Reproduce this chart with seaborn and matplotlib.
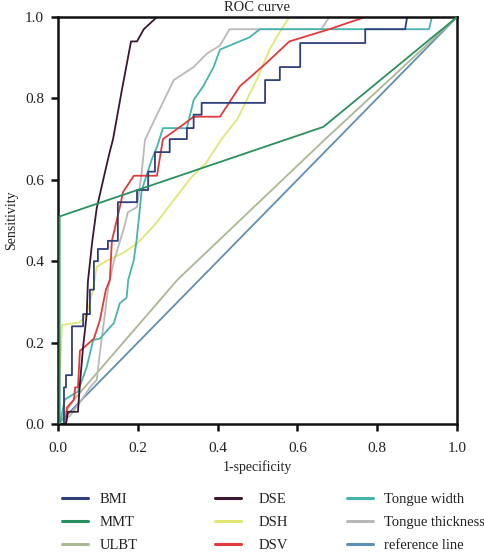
import matplotlib
matplotlib.use("Agg")
import matplotlib.pyplot as plt
import seaborn as sns
import pandas as pd

# ---- data ----
bmi_x = [0, 0.015, 0.015, 0.02, 0.02, 0.035, 0.035, 0.063, 0.063, 0.08, 0.08, 0.09, 0.09, 0.10, 0.10,
         0.125, 0.125, 0.15, 0.15, 0.198, 0.198, 0.226, 0.226, 0.243, 0.243, 0.28, 0.28, 0.323, 0.323,
         0.34, 0.34, 0.36, 0.36, 0.519, 0.519, 0.556, 0.556, 0.607, 0.607, 0.77, 0.77, 0.87, 0.875, 1.0]
bmi_y = [0, 0, 0.09, 0.09, 0.12, 0.12, 0.24, 0.24, 0.27, 0.27, 0.33, 0.33, 0.40, 0.40, 0.43,
         0.43, 0.45, 0.45, 0.545, 0.545, 0.575, 0.575, 0.62, 0.62, 0.668, 0.668, 0.70, 0.70, 0.727,
         0.727, 0.76, 0.76, 0.789, 0.789, 0.845, 0.845, 0.877, 0.877, 0.936, 0.936, 0.97, 0.97, 1.0, 1.0]

mmt_x = [0.004, 0.004, 0.665, 1.0]
mmt_y = [0, 0.51, 0.73, 1.0]

ulbt_x = [0, 0.04, 0.30, 0.67, 1.0]
ulbt_y = [0, 0.06, 0.355, 0.70, 1.0]

dse_x = [0, 0.02, 0.025, 0.05, 0.055, 0.063, 0.072, 0.075, 0.086, 0.097, 0.118, 0.13, 0.138, 0.16,
         0.183, 0.198, 0.215, 0.248, 1.0]
dse_y = [0, 0, 0.03, 0.03, 0.10, 0.19, 0.27, 0.35, 0.45, 0.53, 0.62, 0.67, 0.70, 0.82,
         0.94, 0.94, 0.97, 1.0, 1.0]

dsh_x = [0, 0.003, 0.01, 0.055, 0.072, 0.088, 0.097, 0.12, 0.163, 0.20, 0.243, 0.29, 0.335, 0.37,
         0.41, 0.45, 0.47, 0.50, 0.53, 0.56, 0.58, 1.0]
dsh_y = [0, 0.10, 0.243, 0.25, 0.27, 0.33, 0.386, 0.40, 0.42, 0.445, 0.49, 0.55, 0.607, 0.64,
         0.70, 0.75, 0.79, 0.85, 0.92, 0.97, 1.0, 1.0]

dsv_x = [0, 0.02, 0.022, 0.04, 0.043, 0.05, 0.055, 0.072, 0.09, 0.105, 0.12, 0.13, 0.135, 0.155,
         0.163, 0.19, 0.248, 0.263, 0.313, 0.34, 0.406, 0.456, 0.52, 0.58, 0.68, 0.77, 1.0]
dsv_y = [0, 0, 0.04, 0.06, 0.09, 0.09, 0.18, 0.194, 0.21, 0.255, 0.33, 0.354, 0.45, 0.533,
         0.57, 0.61, 0.61, 0.70, 0.735, 0.755, 0.755, 0.83, 0.885, 0.94, 0.97, 1.0, 1.0]

tw_x = [0, 0.005, 0.017, 0.05, 0.072, 0.088, 0.105, 0.14, 0.155, 0.172, 0.176, 0.19, 0.197, 0.21,
        0.235, 0.248, 0.263, 0.323, 0.34, 0.364, 0.39, 0.406, 0.48, 0.506, 0.93, 0.937, 1.0]
tw_y = [0, 0, 0.06, 0.08, 0.14, 0.206, 0.21, 0.248, 0.297, 0.31, 0.354, 0.403, 0.452, 0.575,
        0.65, 0.68, 0.727, 0.727, 0.796, 0.83, 0.877, 0.92, 0.95, 0.97, 0.97, 1.0, 1.0]

tt_x = [0, 0.03, 0.06, 0.08, 0.097, 0.105, 0.115, 0.125, 0.14, 0.165, 0.175, 0.198, 0.21, 0.218,
        0.248, 0.263, 0.29, 0.34, 0.373, 0.406, 0.43, 0.66, 0.68, 1.0]
tt_y = [0, 0.02, 0.06, 0.09, 0.108, 0.175, 0.25, 0.33, 0.40, 0.48, 0.52, 0.533, 0.62, 0.698,
        0.76, 0.79, 0.845, 0.877, 0.91, 0.93, 0.97, 0.97, 1.0, 1.0]

ref_x = [0, 1.0]
ref_y = [0, 1.0]

labels = ["BMI", "MMT", "ULBT", "DSE", "DSH", "DSV",
          "Tongue width", "Tongue thickness", "reference line"]
series_x = [bmi_x, mmt_x, ulbt_x, dse_x, dsh_x, dsv_x, tw_x, tt_x, ref_x]
series_y = [bmi_y, mmt_y, ulbt_y, dse_y, dsh_y, dsv_y, tw_y, tt_y, ref_y]
colors = ["#2e3f7a", "#2a9060", "#aab894", "#3a1830", "#dfe775", "#e23a3a",
          "#45b5ad", "#b9b9b9", "#5f8fb5"]

rows = []
for lab, xs, ys in zip(labels, series_x, series_y):
    for i, (xv, yv) in enumerate(zip(xs, ys)):
        rows.append({"series": lab, "order": i, "x": xv, "y": yv})
df = pd.DataFrame(rows)

# ---- style ----
sns.set_style("ticks")
plt.rcParams["font.family"] = ["Liberation Serif", "DejaVu Serif"]

fig = plt.figure(figsize=(4.84, 5.55), dpi=100)
ax = fig.add_axes([58 / 484, 1 - 424 / 555, (457 - 58) / 484, (424 - 17) / 555])

palette = dict(zip(labels, colors))
draw_order = ["reference line", "ULBT", "MMT", "DSH", "Tongue thickness",
              "Tongue width", "DSV", "BMI", "DSE"]
for lab in draw_order:
    sub = df[df["series"] == lab]
    sns.lineplot(data=sub, x="x", y="y", sort=False, estimator=None,
                 color=palette[lab], lw=1.3, ax=ax, label=lab, legend=False)
for ln in ax.get_lines():
    if ln.get_label() == "MMT":
        ln.set_zorder(3)

ax.set_xlim(0, 1)
ax.set_ylim(0, 1)
ticks = [0.0, 0.2, 0.4, 0.6, 0.8, 1.0]
ax.set_xticks(ticks)
ax.set_yticks(ticks)
ax.set_xticklabels([f"{t:.1f}" for t in ticks])
ax.set_yticklabels([f"{t:.1f}" for t in ticks])
for s in ax.spines.values():
    s.set_visible(True)
    s.set_color("#111111")
    s.set_linewidth(1.8)
ax.tick_params(direction="out", length=5, width=1.8, colors="#111111",
               labelsize=11, pad=5, labelcolor="#222222")
ax.tick_params(axis="x", pad=8)

ax.set_title("ROC curve", fontsize=10.5, pad=4, color="#222222")
ax.set_xlabel("1-specificity", fontsize=10, labelpad=4, color="#222222")
ax.set_ylabel("Sensitivity", fontsize=10, labelpad=5, color="#222222")

# ---- legend: three column blocks ----
cols = [(["BMI", "MMT", "ULBT"], 62, 0.8), (["DSE", "DSH", "DSV"], 215, 1.2),
        (["Tongue width", "Tongue thickness", "reference line"], 347, 0.75)]
for labs, xpx, pad in cols:
    handles = [plt.Line2D([], [], color=palette[l], lw=2.2) for l in labs]
    fig.legend(handles, labs, loc="upper left",
               bbox_to_anchor=(xpx / 484, 1 - 493 / 555),
               frameon=False, fontsize=10.5, handlelength=1.8,
               handletextpad=pad, labelspacing=0.66, borderaxespad=0,
               borderpad=0, labelcolor="#222222")

fig.savefig("out.png", dpi=100)
